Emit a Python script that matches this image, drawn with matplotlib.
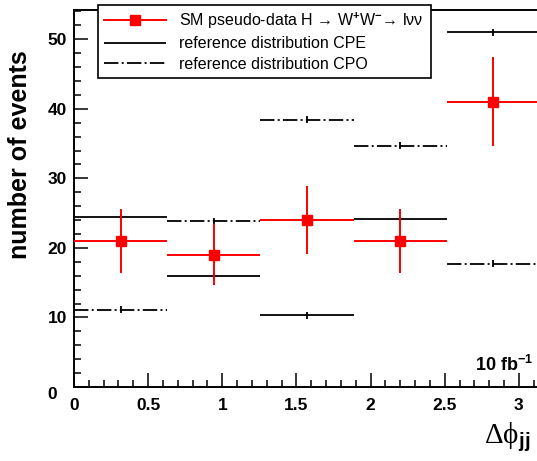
import numpy as np
import matplotlib
matplotlib.use("Agg")
import matplotlib.pyplot as plt
from matplotlib.lines import Line2D
from matplotlib.ticker import MultipleLocator, FuncFormatter

# binned delta-phi_jj distribution, 10 fb^-1
bin_edges = [0.0, 0.628, 1.257, 1.885, 2.513, 3.142]
data_counts = [21, 19, 24, 21, 41]
data_errors = [4.6, 4.4, 4.9, 4.6, 6.4]
cpe_counts = [24.4, 16.0, 10.3, 24.2, 51.0]
cpo_counts = [11.1, 23.8, 38.4, 34.7, 17.7]
mc_error = 0.5

plt.rcParams['font.family'] = ['Liberation Sans', 'DejaVu Sans']
plt.rcParams['font.weight'] = 'bold'
plt.rcParams['mathtext.fontset'] = 'custom'
plt.rcParams['mathtext.rm'] = 'Liberation Sans'
plt.rcParams['mathtext.bf'] = 'Liberation Sans:bold'
plt.rcParams['mathtext.it'] = 'Liberation Sans:italic'

edges = np.array(bin_edges)
left = edges[:-1]
right = edges[1:]
centers = (left + right) / 2
halfw = (right - left) / 2
cpe = np.array(cpe_counts)
cpo = np.array(cpo_counts)

W, H = 537, 461
fig = plt.figure(figsize=(W / 100, H / 100), dpi=100)
ax = fig.add_axes([74 / W, 74 / H, 466 / W, 377 / H])

dashdot = (0, (8, 1.8, 1.1, 1.8))

h_cpe = ax.hlines(cpe, left, right, colors='k', lw=1.3, label='reference distribution CPE')
ax.vlines(centers, cpe - mc_error, cpe + mc_error, colors='k', lw=1.3)
h_cpo = ax.hlines(cpo, left, right, colors='k', lw=1.3, linestyles=[dashdot],
                  label='reference distribution CPO')
ax.vlines(centers, cpo - mc_error, cpo + mc_error, colors='k', lw=1.3)

ax.errorbar(centers, data_counts, xerr=halfw, yerr=data_errors, fmt='s',
            color='#ff0000', ms=7, lw=1.4, capsize=0, zorder=5)

ax.set_xlim(0, bin_edges[-1])
ax.set_ylim(0, 54.2)
ax.xaxis.set_major_locator(MultipleLocator(0.5))
ax.xaxis.set_minor_locator(MultipleLocator(0.1))
ax.yaxis.set_major_locator(MultipleLocator(10))
ax.yaxis.set_minor_locator(MultipleLocator(2))
ax.xaxis.set_major_formatter(FuncFormatter(lambda v, p: '%g' % v))
ax.yaxis.set_major_formatter(FuncFormatter(lambda v, p: '' if v == 0 else '%d' % v))
ax.tick_params(which='both', direction='in', top=False, right=False, width=1.1, labelsize=12.5)
ax.tick_params(which='major', length=10)
ax.tick_params(which='minor', length=5)
ax.tick_params(axis='x', pad=8)
ax.tick_params(axis='y', pad=5)
for s in ax.spines.values():
    s.set_linewidth(1.4)

fig.text(57 / W, 1 - 394 / H, '0', ha='right', va='center', fontsize=12.5)
fig.text(20 / W, 1 - 155 / H, 'number of events', rotation=90, ha='center', va='center',
         fontsize=18)
fig.text(533 / W, 1 - 371 / H, r'10 fb$^{\mathbf{-1}}$', ha='right', va='baseline', fontsize=13)
fig.text(484 / W, 1 - 443 / H, r'Δϕ$_{\mathbf{jj}}$', ha='left', va='baseline', fontsize=21,
         fontweight='normal', family=['Liberation Serif', 'DejaVu Serif'])

handles = [Line2D([], [], color='#ff0000', marker='s', ms=7, lw=1.4), h_cpe, h_cpo]
labels = ['SM pseudo-data H → W$^{+}$W$^{-}$→ lνν',
          'reference distribution CPE',
          'reference distribution CPO']
leg = fig.legend(handles, labels, loc='upper left',
                 bbox_to_anchor=(98 / W, 1 - 5 / H, (431 - 98) / W, 0), mode='expand',
                 prop={'size': 11.5, 'weight': 'normal'}, frameon=True, fancybox=False,
                 edgecolor='k', framealpha=1, handlelength=3.9, handletextpad=0.8,
                 labelspacing=0.35, borderpad=0.35, borderaxespad=0)
leg.get_frame().set_linewidth(1.2)

fig.savefig('out.png', dpi=100)
